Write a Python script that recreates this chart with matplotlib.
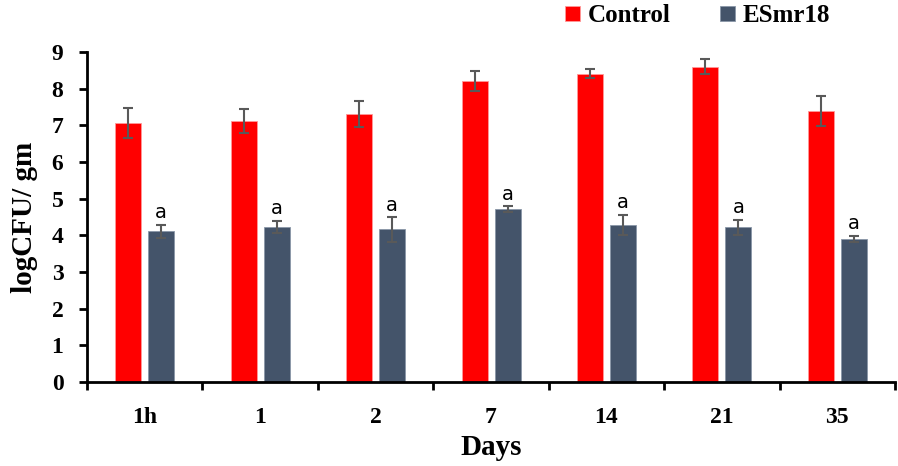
import numpy as np
import matplotlib
matplotlib.use("Agg")
import matplotlib.pyplot as plt
from matplotlib.ticker import FixedLocator

days = ['1h', '1', '2', '7', '14', '21', '35']
control = [7.06, 7.11, 7.31, 8.21, 8.41, 8.60, 7.38]
control_err = [0.40, 0.33, 0.36, 0.26, 0.13, 0.21, 0.41]
esmr18 = [4.11, 4.23, 4.16, 4.71, 4.28, 4.22, 3.90]
esmr18_err = [0.17, 0.17, 0.33, 0.08, 0.27, 0.21, 0.08]
letters = ['a', 'a', 'a', 'a', 'a', 'a', 'a']

plt.rcParams['font.family'] = ['Liberation Serif', 'DejaVu Serif']

fig = plt.figure(figsize=(8.98, 4.66), dpi=100)
ax = fig.add_axes([0.0969, 0.1803, 0.8998, 0.7081])

x = np.arange(len(days))
w = 0.225
off = 0.143
err_kw = dict(ecolor='#595959', elinewidth=1.5, capsize=3.8, capthick=1.5)

ax.bar(x - off, control, w, yerr=control_err, color='#FF0000',
       edgecolor='#FF9999', linewidth=0.6, label='Control', error_kw=err_kw)
ax.bar(x + off, esmr18, w, yerr=esmr18_err, color='#44546A',
       edgecolor='#8A97A8', linewidth=0.6, label='ESmr18', error_kw=err_kw)

for xi, v, e, t in zip(x, esmr18, esmr18_err, letters):
    ax.annotate(t, (xi + off, v + e), xytext=(0, 2), textcoords='offset points',
                ha='center', va='bottom', fontsize=14, family='DejaVu Sans')

ax.set_xlim(-0.5, len(days) - 0.5)
ax.set_ylim(0, 9)
ax.set_yticks(range(10))
ax.set_xticks(x)
ax.set_xticklabels(days)
ax.xaxis.set_minor_locator(FixedLocator(np.arange(-0.5, len(days), 1.0)))
ax.tick_params(axis='x', which='major', length=0, pad=18, labelsize=17)
ax.tick_params(axis='x', which='minor', length=6, width=2, direction='out')
ax.tick_params(axis='y', length=6, width=2, labelsize=17, pad=11)
for lbl in ax.get_xticklabels() + ax.get_yticklabels():
    lbl.set_fontweight('bold')

for s in ['top', 'right']:
    ax.spines[s].set_visible(False)
for s in ['left', 'bottom']:
    ax.spines[s].set_linewidth(2)

ax.set_xlabel('Days', fontsize=21, fontweight='bold', labelpad=4)
ax.set_ylabel('logCFU/ gm', fontsize=21, fontweight='bold', labelpad=10)

fig.legend(loc='center left', bbox_to_anchor=(565 / 898, 0.966), ncol=2, frameon=False,
           prop=dict(size=18, weight='bold'), handlelength=0.6, handleheight=0.6,
           handletextpad=0.3, columnspacing=2.0, borderaxespad=0, borderpad=0)

plt.savefig('out.png', dpi=100)
